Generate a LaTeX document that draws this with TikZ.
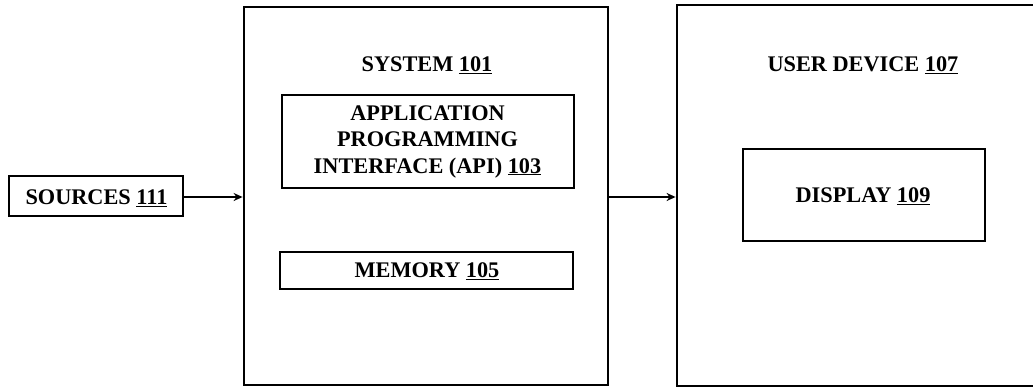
\documentclass[tikz,border=0pt]{standalone}
\usepackage{fontspec}
\setmainfont{Liberation Serif}
\usetikzlibrary{arrows.meta}
\begin{document}
\begin{tikzpicture}[x=1pt,y=-1pt,
  outerbox/.style={draw, line width=2.8pt, rectangle, inner sep=0pt},
  innerbox/.style={draw, line width=2.4pt, rectangle, inner sep=0pt},
  lbl/.style={font=\bfseries\fontsize{22.3}{26.5}\selectfont, align=center, inner sep=0pt},
  conn/.style={line width=2pt, -{Stealth[length=9pt,width=8pt]}}
]
\useasboundingbox (0,0) rectangle (1033,388);
% outer boxes
\node[outerbox, minimum width=364, minimum height=378] (sys) at (426,196) {};
\node[outerbox, minimum width=364, minimum height=381] (dev) at (859,195.5) {};
% titles
\node[lbl] (systitle) at (427,65) {SYSTEM \underline{101}};
\node[lbl] (devtitle) at (863,65) {USER DEVICE \underline{107}};
% inner boxes
\node[innerbox, minimum width=292, minimum height=93] (api) at (428,141.5) {};
\node[lbl] (apitext) at (427.5,141.5) {APPLICATION\\PROGRAMMING\\INTERFACE (API) \underline{103}};
\node[innerbox, minimum width=293, minimum height=37] (mem) at (426.5,270.5) {};
\node[lbl] (memtext) at (427,271) {MEMORY \underline{105}};
\node[innerbox, minimum width=242, minimum height=92] (disp) at (864,195) {};
\node[lbl] (disptext) at (863,196) {DISPLAY \underline{109}};
\node[innerbox, minimum width=174, minimum height=40] (src) at (96,196) {};
\node[lbl] (srctext) at (96.5,198) {SOURCES \underline{111}};
% connectors
\draw[conn] (src.east |- 0,197) -- (sys.west |- 0,197);
\draw[conn] (sys.east |- 0,197) -- (dev.west |- 0,197);
\end{tikzpicture}
\end{document}
